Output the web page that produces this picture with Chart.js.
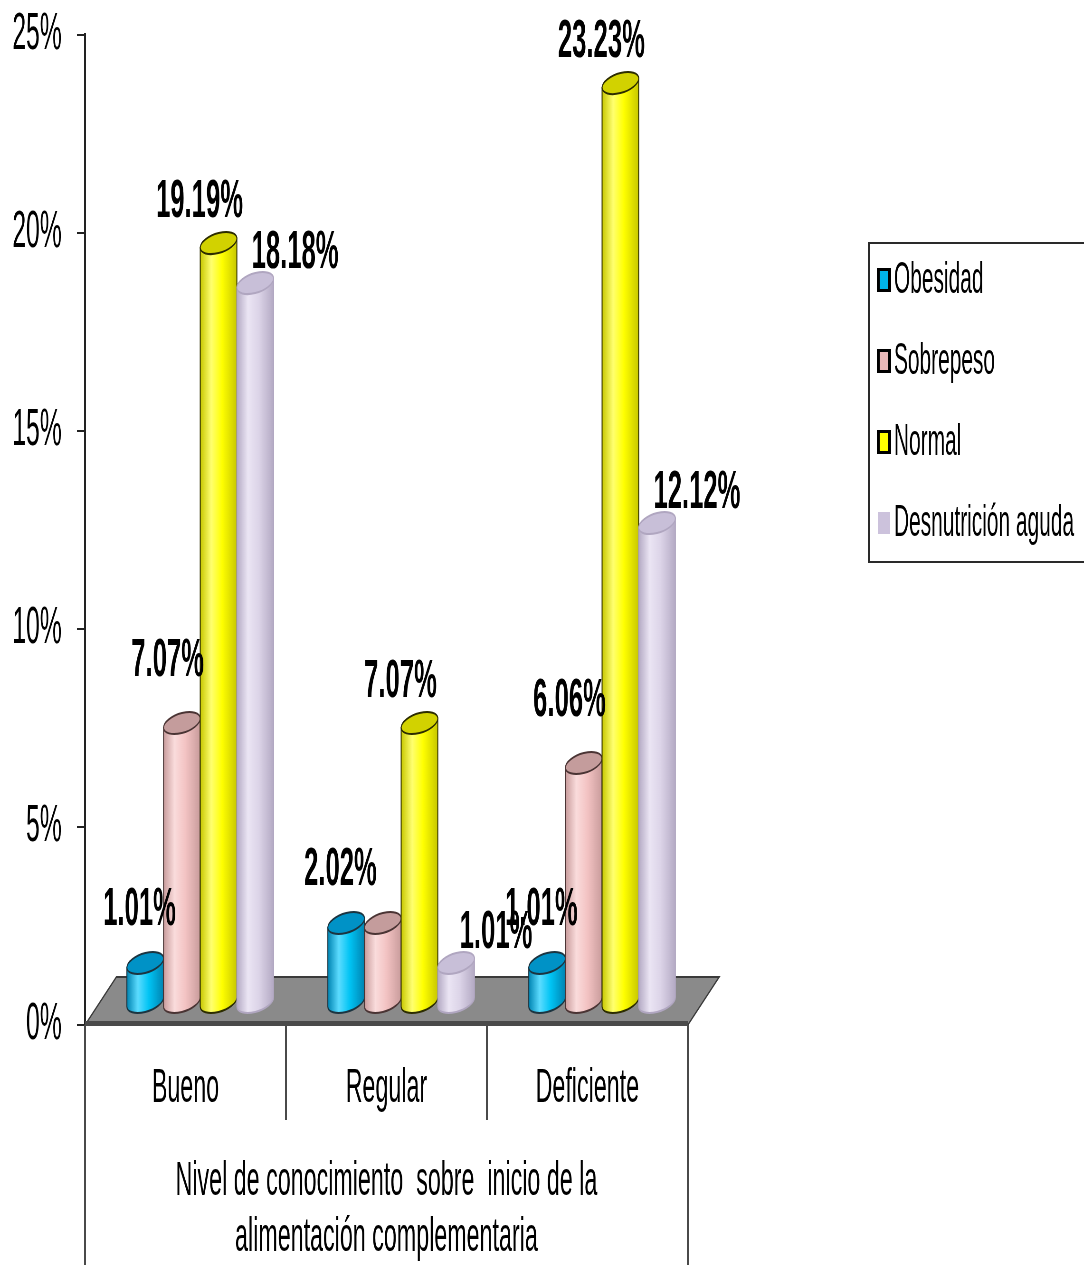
<!DOCTYPE html>
<html lang="es">
<head>
<meta charset="utf-8">
<title>Nivel de conocimiento sobre inicio de la alimentación complementaria</title>
<script src="https://cdn.jsdelivr.net/npm/chart.js@4.4.1/dist/chart.umd.min.js"></script>
<style>
  html, body { margin: 0; padding: 0; background: #fff; overflow: hidden; }
  /* laid out wide, then squeezed sideways to get the narrow lettering */
  #wrap { width: 2282px; height: 1265px; transform: scaleX(0.475); transform-origin: 0 0; }
</style>
</head>
<body>
<div id="wrap"><canvas id="chart"></canvas></div>
<script>
const categorias = ['Bueno', 'Regular', 'Deficiente'];
const series = ['Obesidad', 'Sobrepeso', 'Normal', 'Desnutrición aguda'];
const obesidad = [1.01, 2.02, 1.01];
const sobrepeso = [7.07, 2.02, 6.06];
const normal = [19.19, 7.07, 23.23];
const desnutricion = [18.18, 1.01, 12.12];
const yTicks = [0, 5, 10, 15, 20, 25];
const ejeTitulo = ['Nivel de conocimiento  sobre  inicio de la', 'alimentación complementaria'];

const valores = [obesidad, sobrepeso, normal, desnutricion];

// cylinder colours
const estilos = [
    { body: '#00c4f4', edge: '#0084b2', light: '#5cdcff', top: '#0092c6', line: '#1c3440', legend: '#00b4ea', box: '#000' },
    { body: '#f3c3c3', edge: '#c99c9c', light: '#fadcdc', top: '#c49c9c', line: '#4a3434', legend: '#eab8b8', box: '#000' },
    { body: '#ffff00', edge: '#c8c800', light: '#ffff70', top: '#d2d200', line: '#2c2c00', legend: '#ffff00', box: '#000' },
    { body: '#dcd4e8', edge: '#b4aac4', light: '#ebe5f4', top: '#c8bfd8', line: '#b0a6c0', legend: '#ccc2dc', box: null },
];

// value label offsets per series (canvas units, before the sideways squeeze)
const etiquetaDx = [-12, -30, -40, 84];
const etiquetaDy = [-53, -62, -41, -30];
const sinEtiqueta = [[1, 1]]; // [series, category]

const FONT = "'Liberation Sans', Arial, sans-serif";
const DEPTH_X = 66, DEPTH_Y = -48;   // floor depth
const BAR_X = 31, BAR_Y = -22;       // bars stand mid-depth
const CAP_RY = 10, SHEAR = -0.12;

function cilindro(ctx, cx, yTop, yBase, rx, st) {
    ctx.save();
    ctx.translate(cx, 0);
    ctx.transform(1, SHEAR, 0, 1, 0, 0);
    const g = ctx.createLinearGradient(-rx, 0, rx, 0);
    g.addColorStop(0, st.edge);
    g.addColorStop(0.3, st.light);
    g.addColorStop(0.6, st.body);
    g.addColorStop(1, st.edge);
    ctx.beginPath();
    ctx.moveTo(-rx, yTop);
    ctx.lineTo(-rx, yBase);
    ctx.ellipse(0, yBase, rx, CAP_RY, 0, Math.PI, 0, true);
    ctx.lineTo(rx, yTop);
    ctx.closePath();
    ctx.fillStyle = g;
    ctx.fill();
    ctx.strokeStyle = st.line;
    ctx.lineWidth = 2;
    ctx.stroke();
    ctx.beginPath();
    ctx.ellipse(0, yTop, rx, CAP_RY, 0, 0, Math.PI * 2);
    ctx.fillStyle = st.top;
    ctx.fill();
    ctx.stroke();
    ctx.restore();
}

const escena3d = {
    id: 'escena3d',
    beforeDatasetsDraw(chart) {
        const { ctx, chartArea: a, scales } = chart;
        const y0 = scales.y.getPixelForValue(0);
        ctx.save();
        // floor
        ctx.beginPath();
        ctx.moveTo(a.left, y0);
        ctx.lineTo(a.right, y0);
        ctx.lineTo(a.right + DEPTH_X, y0 + DEPTH_Y);
        ctx.lineTo(a.left + DEPTH_X, y0 + DEPTH_Y);
        ctx.closePath();
        ctx.fillStyle = '#8a8a8a';
        ctx.fill();
        ctx.strokeStyle = '#3a3a3a';
        ctx.lineWidth = 2;
        ctx.stroke();
        ctx.fillStyle = '#4a4a4a';
        ctx.fillRect(a.left, y0 - 4, a.right - a.left, 5);
        ctx.restore();
    },
    afterDatasetsDraw(chart) {
        const { ctx } = chart;
        for (let c = 0; c < categorias.length; c++) {
            for (let s = 0; s < series.length; s++) {
                const el = chart.getDatasetMeta(s).data[c];
                const p = el.getProps(['x', 'y', 'base', 'width'], true);
                cilindro(ctx, p.x + BAR_X, p.y + BAR_Y, p.base + BAR_Y, p.width / 2, estilos[s]);
            }
        }
        ctx.save();
        ctx.fillStyle = '#000';
        ctx.font = 'bold 54px ' + FONT;
        ctx.textAlign = 'center';
        ctx.textBaseline = 'middle';
        for (let s = 0; s < series.length; s++) {
            chart.getDatasetMeta(s).data.forEach((el, c) => {
                if (sinEtiqueta.some(([ss, cc]) => ss === s && cc === c)) return;
                const p = el.getProps(['x', 'y'], true);
                ctx.fillText(valores[s][c].toFixed(2) + '%', p.x + BAR_X + etiquetaDx[s], p.y + BAR_Y + etiquetaDy[s]);
            });
        }
        ctx.restore();
    },
    afterDraw(chart) {
        const { ctx, chartArea: a, scales } = chart;
        const y0 = scales.y.getPixelForValue(0);
        const step = (a.right - a.left) / categorias.length;
        ctx.save();
        // category box lines
        ctx.fillStyle = '#4a4a4a';
        for (let i = 0; i <= categorias.length; i++) {
            const x = a.left + i * step;
            const end = (i === 0 || i === categorias.length) ? chart.height : y0 + 95;
            ctx.fillRect(x - 2, y0, 4, end - y0);
        }
        // legend
        const lx = 1827, ly = 242, lh = 321;
        ctx.fillStyle = '#2a2a2a';
        ctx.fillRect(lx, ly, chart.width - lx, 2);
        ctx.fillRect(lx, ly + lh - 2, chart.width - lx, 2);
        ctx.fillRect(lx, ly, 4, lh);
        ctx.font = '44px ' + FONT;
        ctx.textAlign = 'left';
        ctx.textBaseline = 'middle';
        series.forEach((name, i) => {
            const cy = 280 + i * 81;
            const st = estilos[i];
            if (st.box) {
                ctx.fillStyle = st.box;
                ctx.fillRect(1846, cy - 12, 30, 24);
                ctx.fillStyle = st.legend;
                ctx.fillRect(1852, cy - 9, 18, 18);
            } else {
                ctx.fillStyle = st.legend;
                ctx.fillRect(1848, cy - 11, 26, 22);
            }
            ctx.fillStyle = '#000';
            ctx.fillText(name, 1882, cy + 1);
        });
        ctx.restore();
    }
};

new Chart(document.getElementById('chart'), {
    type: 'bar',
    data: {
        labels: categorias,
        datasets: series.map((name, i) => ({
            label: name,
            data: valores[i],
            backgroundColor: 'rgba(0,0,0,0)',
            borderWidth: 0,
            categoryPercentage: 0.73,
            barPercentage: 1.0,
        })),
    },
    options: {
        responsive: true,
        maintainAspectRatio: false,
        animation: false,
        devicePixelRatio: 1,
        layout: { padding: { top: 35, right: 834, left: 0, bottom: 0 } },
        plugins: { legend: { display: false }, tooltip: { enabled: false } },
        scales: {
            x: {
                grid: { display: false, drawTicks: false },
                border: { display: true, color: '#333', width: 2 },
                ticks: { color: '#000', font: { family: FONT, size: 49 }, padding: 34, maxRotation: 0, autoSkip: false },
                title: {
                    display: true,
                    text: ejeTitulo,
                    color: '#000',
                    font: { family: FONT, size: 49, lineHeight: 56 / 49 },
                    padding: { top: 0, bottom: 0 },
                },
                afterFit(scale) { scale.height = 240; },
            },
            y: {
                min: 0,
                max: 25,
                afterBuildTicks(scale) { scale.ticks = yTicks.map(v => ({ value: v })); },
                grid: { drawOnChartArea: false, tickLength: 17, color: '#222', lineWidth: 2 },
                border: { display: true, color: '#222', width: 4 },
                ticks: { color: '#000', font: { family: FONT, size: 52 }, padding: 32, callback: v => v + '%' },
                afterFit(scale) {
                    scale.width = 179;
                    scale.paddingTop = 0;
                    scale.paddingBottom = 0;
                },
            },
        },
    },
    plugins: [escena3d],
});
</script>
</body>
</html>
